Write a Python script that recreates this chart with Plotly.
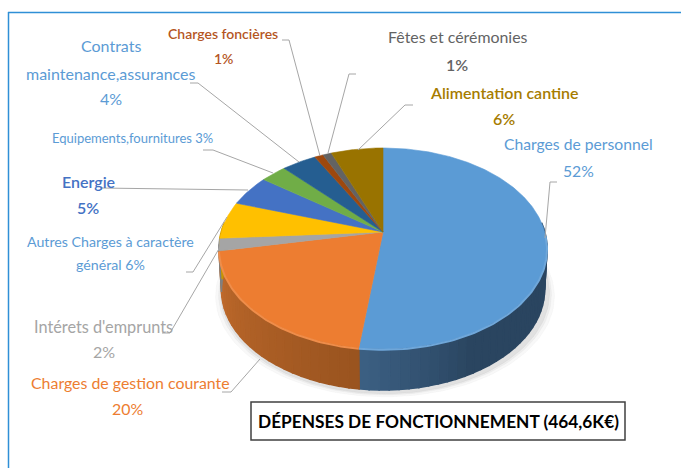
import numpy as np
import plotly.graph_objects as go

categories = ["Charges de personnel", "Charges de gestion courante", "Intérets d'emprunts",
              "Autres Charges à caractère général", "Energie", "Equipements,fournitures",
              "Contrats maintenance,assurances", "Charges foncières", "Fêtes et cérémonies",
              "Alimentation cantine"]
values = [52, 20, 2, 6, 5, 3, 4, 1, 1, 6]
colors = ["#5b9bd5", "#ed7d31", "#a5a5a5", "#ffc000", "#4472c4", "#70ad47",
          "#255e91", "#9e480e", "#636363", "#997300"]
rim_near = ["#3c6083", "#c06a2c", "#808080", "#c79600", "#35588f", "#578736",
            "#1d4970", "#7b380b", "#4d4d4d", "#775a00"]
rim_far = ["#2a4560", "#99531f", "#808080", "#c79600", "#35588f", "#578736",
           "#1d4970", "#7b380b", "#4d4d4d", "#775a00"]

label_text = ["Charges foncières", "1%", "Contrats", "maintenance,assurances", "4%",
              "Equipements,fournitures 3%", "Energie", "5%", "Autres Charges à caractère",
              "général 6%", "Intérets d'emprunts", "2%", "Charges de gestion courante", "20%",
              "Fêtes et cérémonies", "1%", "Alimentation cantine", "6%", "Charges de personnel", "52%"]
label_x = [223, 223, 111, 111, 111, 132, 88, 88, 110, 110, 103, 104, 130, 127, 458, 457, 504, 504, 578, 578]
label_y = [33, 58, 45, 73, 98, 138, 181, 207, 241, 264, 326, 351, 382, 408, 36, 64, 92, 118, 144, 171]
label_color = ["#b5561f"] * 2 + ["#5b9bd5"] * 4 + ["#4472c4"] * 2 + ["#5b9bd5"] * 2 + ["#a5a5a5"] * 2 + \
              ["#ed7d31"] * 2 + ["#636363"] * 2 + ["#a67c00"] * 2 + ["#5b9bd5"] * 2
label_size = [14, 14, 16, 16, 16, 13, 16, 16, 14.2, 14.2, 16.3, 16, 15.9, 15.9, 15.9, 15.9, 16, 16, 15.7, 15.7]
label_weight = [600, 600, 400, 400, 400, 400, 600, 600, 400, 400, 400, 400, 400, 400, 400, 600, 600, 600, 400, 400]

leader_x = [[282, 289, 320], [190, 198, 299], [203, 213, 273], [100, 248], [186, 193, 227],
            [162, 170, 220], [222, 231, 260], [356, 349, 328], [413, 405, 358], [557, 550, 545]]
leader_y = [[40, 40, 156], [83, 83, 162], [150, 150, 173], [188, 190], [272, 272, 217],
            [333, 333, 247], [392, 392, 359], [74, 74, 153], [105, 105, 150], [182, 182, 238]]

title_text = "DÉPENSES DE FONCTIONNEMENT (464,6K€)"

CX, CY = 383.0, 232.0
K, A = 0.164, 97.8
B = 161.8
DEPTH = 41
TAPER = 0.985


def top(theta):
    u, v = np.sin(theta), -np.cos(theta)
    w = 1 - K * v
    return CX + B * u / w, CY + A * v / w


def bottom(theta):
    x, y = top(theta)
    return CX + (x - CX) * TAPER, y + DEPTH


fig = go.Figure()


def poly(xs, ys, fill, line=None, width=0):
    fig.add_trace(go.Scatter(x=list(xs), y=list(ys), mode="lines", fill="toself", fillcolor=fill,
                             line=dict(color=line or fill, width=width if line else 0.6),
                             hoverinfo="skip", showlegend=False))


def mix(c1, c2, t):
    a = [int(c1[i:i + 2], 16) for i in (1, 3, 5)]
    b = [int(c2[i:i + 2], 16) for i in (1, 3, 5)]
    return "#%02x%02x%02x" % tuple(int(round(p + (q - p) * t)) for p, q in zip(a, b))


total = sum(values)
edges = 2 * np.pi * np.cumsum([0] + values) / total

# soft shadow under the pie
ring = np.linspace(0, 2 * np.pi, 181)
for grow, alpha in zip([8, 5, 3], [0.05, 0.07, 0.10]):
    sx, sy = bottom(ring)
    poly(CX + (sx - CX) * (1 + grow / 164) + 2, sy + grow * 0.6 + 2, f"rgba(120,120,120,{alpha})")

# pie side, drawn back to front from the slice angles
for i, val in enumerate(values):
    a0, a1 = edges[i], edges[i + 1]
    n = max(2, int((a1 - a0) / np.radians(3)))
    grid = np.linspace(a0, a1, n + 1)
    for j in range(n):
        t0, t1 = grid[j], grid[j + 1]
        mid = (t0 + t1) / 2
        if np.cos(mid) > 0.12:
            continue
        if i == 0:
            shade = min(1, max(0, (np.pi * 187 / 180 - mid) / np.radians(35)))
        else:
            shade = min(1, max(0, (mid - np.radians(187)) / np.radians(72)))
            shade = 1 - shade
        col = mix(rim_near[i], rim_far[i], shade)
        xa, ya = top(np.array([t0, t1]))
        xb, yb = bottom(np.array([t1, t0]))
        fig.add_trace(go.Scatter(x=np.r_[xa, xb, xa[0]], y=np.r_[ya, yb, ya[0]], mode="lines",
                                 fill="toself", fillcolor=col, line=dict(color=col, width=1.6),
                                 hoverinfo="skip", showlegend=False))

# pie top
for i, val in enumerate(values):
    arc = np.linspace(edges[i], edges[i + 1], max(4, val * 6))
    ax, ay = top(arc)
    poly(np.r_[CX, ax, CX], np.r_[CY, ay, CY], colors[i])

# light rim on the front of the top face
for i, val in enumerate(values[:2]):
    lo = max(edges[i], np.radians(92))
    arc = np.linspace(lo, edges[i + 1], 80)
    ax, ay = top(arc)
    fig.add_trace(go.Scatter(x=ax, y=ay + 0.8, mode="lines",
                             line=dict(color=mix(colors[i], "#ffffff", 0.12), width=2),
                             hoverinfo="skip", showlegend=False))

for lx, ly in zip(leader_x, leader_y):
    fig.add_trace(go.Scatter(x=lx, y=ly, mode="lines", line=dict(color="#a6a6a6", width=1),
                             hoverinfo="skip", showlegend=False))

for t, x, y, c, s, w in zip(label_text, label_x, label_y, label_color, label_size, label_weight):
    fig.add_annotation(x=x, y=y, text=t, showarrow=False, xanchor="center", yanchor="middle",
                       font=dict(family="Lato", size=s, color=c, weight=w))

fig.add_annotation(x=438, y=421, text=f"<b>{title_text}</b>", showarrow=False, xanchor="center",
                   yanchor="middle", font=dict(family="Lato", size=17.3, color="#000000"))

fig.update_layout(
    width=681, height=468, margin=dict(l=0, r=0, t=0, b=0),
    paper_bgcolor="#ffffff", plot_bgcolor="#ffffff", showlegend=False,
    xaxis=dict(range=[0, 681], visible=False, fixedrange=True),
    yaxis=dict(range=[468, 0], visible=False, fixedrange=True),
    shapes=[
        dict(type="rect", xref="x", yref="y", x0=251, x1=625, y0=402, y1=440,
             line=dict(color="#404040", width=1.5), fillcolor="rgba(0,0,0,0)"),
        dict(type="line", xref="x", yref="y", x0=8.5, x1=8.5, y0=12, y1=468,
             line=dict(color="#2f8fd6", width=1.5)),
        dict(type="line", xref="x", yref="y", x0=8, x1=681, y0=12.5, y1=12.5,
             line=dict(color="#2f8fd6", width=1.5)),
    ],
)
fig.write_html("out.html", config={"displayModeBar": False},
               post_script="document.body.style.margin='0';document.documentElement.style.overflow='hidden';")
